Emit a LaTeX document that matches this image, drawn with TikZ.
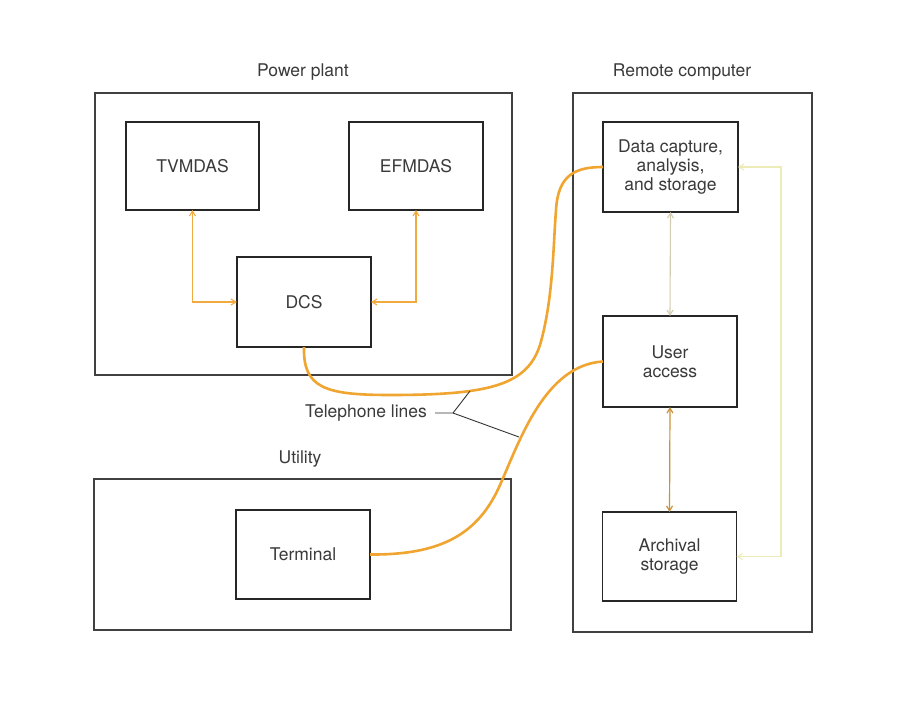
\documentclass[tikz,border=0pt]{standalone}
\usepackage{fontspec}
\setmainfont{TeX Gyre Heros}
\usetikzlibrary{arrows.meta,calc}
\definecolor{txt}{HTML}{3A3A3A}
\definecolor{tel}{HTML}{F0A530}
\definecolor{arr}{HTML}{F0AA40}
\definecolor{arrdark}{HTML}{C8923A}
\definecolor{faint}{HTML}{EDEBB8}
\definecolor{faintgray}{HTML}{D2CDB0}
\begin{document}
\begin{tikzpicture}[x=1pt,y=-1pt,
  box/.style={draw=black!85, line width=1.8pt, minimum width=134pt, minimum height=89pt,
    inner sep=0pt, outer sep=0pt, text=txt, font=\fontsize{17.5}{18.7}\selectfont, align=center},
  frame/.style={draw=black!75, line width=1.2pt, inner sep=0pt, outer sep=0pt},
  lbl/.style={text=txt, font=\fontsize{17.5}{18.7}\selectfont, inner sep=0pt},
  telline/.style={draw=tel, line width=2.6pt},
  pointer/.style={draw=black!80, line width=0.9pt},
  link/.style={draw=arr, line width=1.1pt, {Straight Barb[length=5pt,width=6pt]}-{Straight Barb[length=5pt,width=6pt]}},
  darklink/.style={draw=arrdark, line width=1.2pt, {Straight Barb[length=5pt,width=6pt]}-{Straight Barb[length=5pt,width=6pt]}},
  faintlink/.style={line width=1.1pt, {Straight Barb[length=5pt,width=6pt]}-{Straight Barb[length=5pt,width=6pt]}}
]
\fill[white] (0,0) rectangle (899,718);
\useasboundingbox (0,0) rectangle (899,718);

% outer frames
\node[frame, minimum width=417pt, minimum height=282pt] (pp) at (303.5,234) {};
\node[frame, minimum width=417pt, minimum height=151pt] (ut) at (302.5,554.5) {};
\node[frame, minimum width=239pt, minimum height=539pt] (rc) at (692.5,362.5) {};

\node[lbl] (ppl) at (303,72) {Power plant};
\node[lbl] (rcl) at (682,72) {Remote computer};
\node[lbl] (utl) at (300,459) {Utility};

% inner boxes
\node[box, minimum width=133pt, minimum height=88pt] (tv) at (192.5,166) {TVMDAS};
\node[box, minimum height=88pt] (ef) at (416,166) {EFMDAS};
\node[box, minimum height=90pt] (dcs) at (304,302) {DCS};
\node[box] (term) at (303,554.5) {Terminal};
\node[box, minimum width=135pt, minimum height=90pt] (data) at (670.5,167) {Data capture,\\analysis,\\and storage};
\node[box, minimum height=91pt] (user) at (670,361.5) {User\\access};
\node[box] (arch) at (669.5,556.5) {Archival\\storage};

% power plant links
\draw[link] (tv.south) |- (dcs.west);
\draw[link] (ef.south) |- (dcs.east);

% remote computer links
\draw[faintlink, draw=faintgray] (data.south) -- (user.north);
\draw[darklink] (user.south) -- (arch.north);
\draw[faintlink, draw=faint] (data.east) -- ++(43,0) |- (arch.east);

% telephone lines
\draw[telline] (dcs.south) .. controls (303,388) and (325,395) .. (390,395)
  .. controls (490,395) and (527,385) .. (540,345)
  .. controls (553,300) and (553,250) .. (556,210)
  .. controls (558,175) and (575,167) .. (data.west);
\draw[telline] (term.east) .. controls (440,555) and (478,535) .. (500,485)
  .. controls (520,440) and (545,365) .. (user.west);

\node[lbl] (tl) at (366,413) {Telephone lines};
\coordinate (tj) at (453,413);
\coordinate (p1) at (470,391);
\coordinate (p2) at (519,437);
\draw[pointer] ($(tl.east)+(8,0)$) -- (tj) -- (p1);
\draw[pointer] (tj) -- (p2);
\end{tikzpicture}
\end{document}
